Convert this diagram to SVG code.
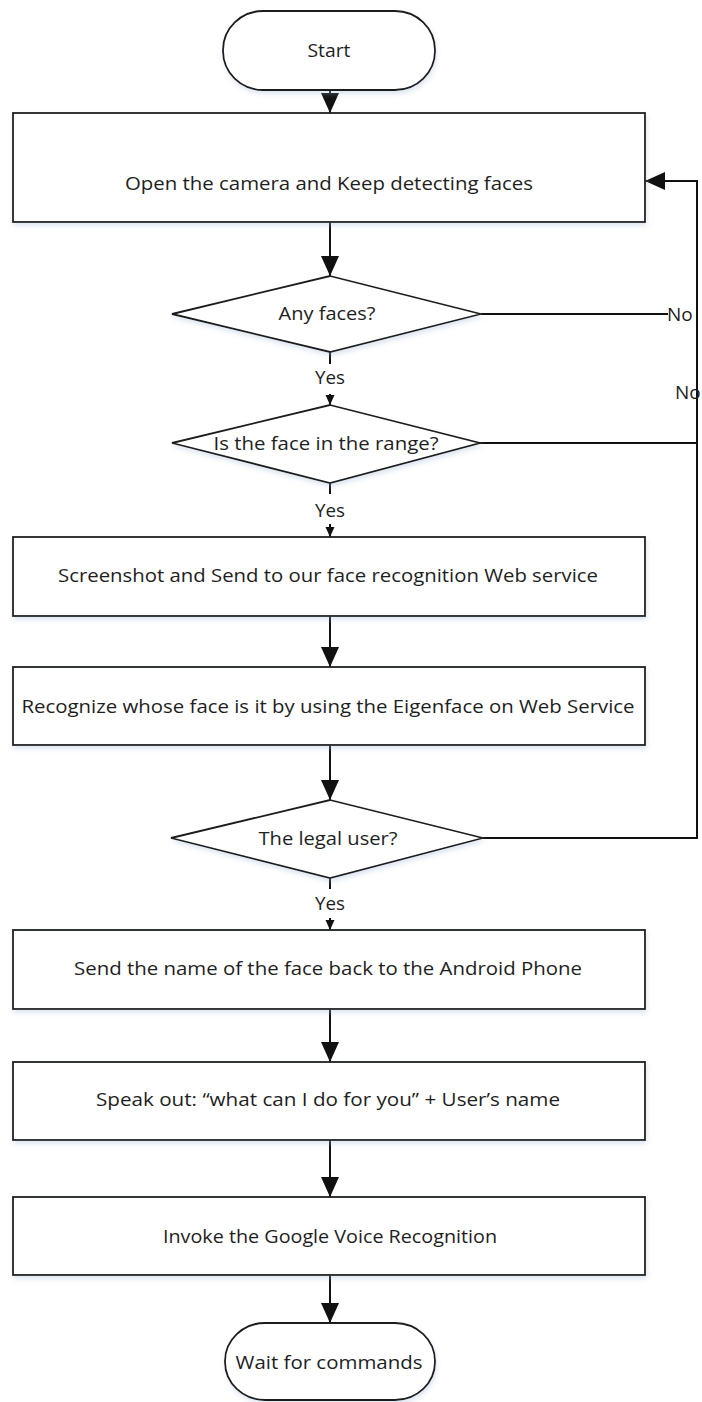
<svg xmlns="http://www.w3.org/2000/svg" width="702" height="1402" viewBox="0 0 702 1402">
  <style>
    .shape { fill: #ffffff; stroke: #1e1e1e; stroke-width: 1.8; filter: url(#soft); }
    .label { font-family: "Open Sans", "Liberation Sans", sans-serif; font-size: 19px; fill: #1e1e1e; text-anchor: middle; }
    .tag { font-family: "Open Sans", "Liberation Sans", sans-serif; font-size: 19px; fill: #1e1e1e; }
    .flow { fill: none; stroke: #111111; stroke-width: 2; }
  </style>
  <defs>
    <filter id="soft" x="-5%" y="-10%" width="110%" height="130%">
      <feDropShadow dx="1" dy="3" stdDeviation="2.5" flood-color="#9fb6d3" flood-opacity="0.35"/>
    </filter>
    <marker id="head" markerUnits="userSpaceOnUse" markerWidth="22" markerHeight="20" refX="20" refY="9" orient="auto">
      <path d="M0,0 L20,9 L0,18 z" fill="#111111"/>
    </marker>
    <marker id="headSmall" markerUnits="userSpaceOnUse" markerWidth="12" markerHeight="10" refX="10" refY="4.5" orient="auto">
      <path d="M0,0 L10,4.5 L0,9 z" fill="#111111"/>
    </marker>
  </defs>

  <rect width="702" height="1402" fill="#ffffff"/>

  <!-- connectors -->
  <g id="connectors">
    <line class="flow" x1="330" y1="90" x2="330" y2="113" marker-end="url(#head)"/>
    <line class="flow" x1="330" y1="222" x2="330" y2="276" marker-end="url(#head)"/>
    <line class="flow" x1="330" y1="352" x2="330" y2="364"/>
    <line class="flow" x1="330" y1="394" x2="330" y2="405" marker-end="url(#headSmall)"/>
    <line class="flow" x1="330" y1="483" x2="330" y2="494"/>
    <line class="flow" x1="330" y1="524" x2="330" y2="537" marker-end="url(#headSmall)"/>
    <line class="flow" x1="330" y1="616" x2="330" y2="667" marker-end="url(#head)"/>
    <line class="flow" x1="330" y1="745" x2="330" y2="800" marker-end="url(#head)"/>
    <line class="flow" x1="330" y1="878" x2="330" y2="889"/>
    <line class="flow" x1="330" y1="918" x2="330" y2="930" marker-end="url(#headSmall)"/>
    <line class="flow" x1="330" y1="1009" x2="330" y2="1062" marker-end="url(#head)"/>
    <line class="flow" x1="330" y1="1140" x2="330" y2="1197" marker-end="url(#head)"/>
    <line class="flow" x1="330" y1="1275" x2="330" y2="1323" marker-end="url(#head)"/>
    <!-- "No" branches back to the camera step -->
    <line class="flow" x1="481" y1="314" x2="668" y2="314"/>
    <line class="flow" x1="480" y1="443" x2="697" y2="443"/>
    <polyline class="flow" points="483,838 697,838 697,181 645,181" marker-end="url(#head)"/>
    <text class="tag" x="667" y="321">No</text>
    <text class="tag" x="675" y="399">No</text>
    <text class="label" x="330" y="384" textLength="30" lengthAdjust="spacingAndGlyphs">Yes</text>
    <text class="label" x="330" y="517" textLength="30" lengthAdjust="spacingAndGlyphs">Yes</text>
    <text class="label" x="330" y="910" textLength="30" lengthAdjust="spacingAndGlyphs">Yes</text>
  </g>

  <g id="start">
    <rect class="shape" x="223" y="11" width="212" height="79" rx="40" ry="39"/>
    <text class="label" x="329" y="57" textLength="43" lengthAdjust="spacingAndGlyphs">Start</text>
  </g>

  <g id="open-camera">
    <rect class="shape" x="13" y="113" width="632" height="109"/>
    <text class="label" x="329" y="190" textLength="408" lengthAdjust="spacingAndGlyphs">Open the camera and Keep detecting faces</text>
  </g>

  <g id="any-faces">
    <polygon class="shape" points="330,276 481,314 330,352 172,314"/>
    <text class="label" x="327" y="320" textLength="97" lengthAdjust="spacingAndGlyphs">Any faces?</text>
  </g>

  <g id="in-range">
    <polygon class="shape" points="330,405 480,443 330,483 172,443"/>
    <text class="label" x="326" y="450" textLength="225" lengthAdjust="spacingAndGlyphs">Is the face in the range?</text>
  </g>

  <g id="screenshot">
    <rect class="shape" x="13" y="537" width="632" height="79"/>
    <text class="label" x="328" y="582" textLength="540" lengthAdjust="spacingAndGlyphs">Screenshot and Send to our face recognition Web service</text>
  </g>

  <g id="recognize">
    <rect class="shape" x="13" y="667" width="632" height="78"/>
    <text class="label" x="328" y="713" textLength="613" lengthAdjust="spacingAndGlyphs">Recognize whose face is it by using the Eigenface on Web Service</text>
  </g>

  <g id="legal-user">
    <polygon class="shape" points="330,800 483,838 330,878 171,838"/>
    <text class="label" x="328" y="845" textLength="139" lengthAdjust="spacingAndGlyphs">The legal user?</text>
  </g>

  <g id="send-name">
    <rect class="shape" x="13" y="930" width="632" height="79"/>
    <text class="label" x="328" y="975" textLength="508" lengthAdjust="spacingAndGlyphs">Send the name of the face back to the Android Phone</text>
  </g>

  <g id="speak-out">
    <rect class="shape" x="13" y="1062" width="632" height="78"/>
    <text class="label" x="328" y="1106" textLength="464" lengthAdjust="spacingAndGlyphs">Speak out: “what can I do for you” + User’s name</text>
  </g>

  <g id="voice-recognition">
    <rect class="shape" x="13" y="1197" width="632" height="78"/>
    <text class="label" x="330" y="1243" textLength="334" lengthAdjust="spacingAndGlyphs">Invoke the Google Voice Recognition</text>
  </g>

  <g id="wait">
    <rect class="shape" x="225" y="1323" width="210" height="77" rx="40" ry="38"/>
    <text class="label" x="329" y="1369" textLength="187" lengthAdjust="spacingAndGlyphs">Wait for commands</text>
  </g>
</svg>
